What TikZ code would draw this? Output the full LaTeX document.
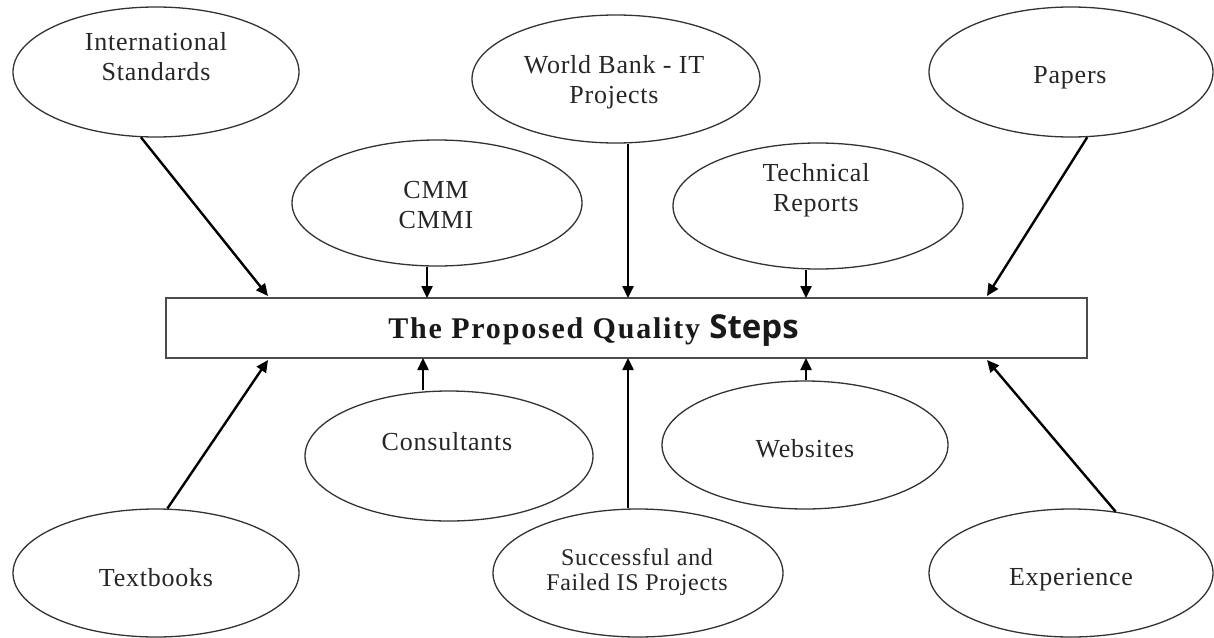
\documentclass[tikz,border=0pt]{standalone}
\usepackage{fontspec}
\setmainfont{Liberation Serif}
\newfontfamily\stepsfont{Open Sans}
\usetikzlibrary{shapes.geometric,arrows.meta}
\begin{document}
\begin{tikzpicture}[x=0.5pt,y=-0.5pt,
  src/.style={draw=black!80, line width=0.65pt, ellipse, inner sep=0pt},
  lbl/.style={font=\fontsize{13}{15}\selectfont\addfontfeatures{LetterSpace=3}, text=black!85, align=center, inner sep=0pt, anchor=base},
  arr/.style={line width=1.2pt, -{Triangle[length=6pt,width=5.5pt]}},
  ]
\useasboundingbox (0,0) rectangle (1214,637);
\fill[white] (0,0) rectangle (1214,637);

% central box
\node[draw=black!70, line width=1pt, minimum width=460.5pt, minimum height=30pt, inner sep=0pt] (box) at (626.5,328) {};
\node[anchor=base west, inner sep=0pt, text=black!90] (title) at (388,338)
  {\fontsize{15}{18}\selectfont\bfseries\addfontfeatures{LetterSpace=6}The Proposed Quality\ {\stepsfont\fontsize{16.5}{18}\selectfont\bfseries Steps}};

% sources above (two-line labels are placed by their last baseline)
\node[src, minimum width=143pt, minimum height=65pt] (is) at (156,72) {};
\node[lbl] (isT) at (156,80) {International\\Standards};
\node[src, minimum width=145pt, minimum height=63pt] (cmm) at (437,203) {};
\node[lbl] (cmmT) at (436,228) {CMM\\CMMI};
\node[src, minimum width=144pt, minimum height=64pt] (wb) at (616,79) {};
\node[lbl] (wbT) at (614,103) {World Bank - IT\\Projects};
\node[src, minimum width=145pt, minimum height=63pt] (tr) at (818,206) {};
\node[lbl] (trT) at (816,211) {Technical\\Reports};
\node[src, minimum width=142pt, minimum height=65pt] (pa) at (1071,72) {};
\node[lbl] (paT) at (1070,83) {Papers};

% sources below
\node[src, minimum width=143pt, minimum height=64pt] (tb) at (156,573) {};
\node[lbl] (tbT) at (156,586) {Textbooks};
\node[src, minimum width=144pt, minimum height=65pt] (co) at (449,456) {};
\node[lbl] (coT) at (447,450) {Consultants};
\node[src, minimum width=145pt, minimum height=64pt] (sf) at (638,573) {};
\node[lbl, font=\fontsize{12}{12.5}\selectfont\addfontfeatures{LetterSpace=3}] (sfT) at (637,590) {Successful and\\Failed IS Projects};
\node[src, minimum width=143pt, minimum height=64pt] (ws) at (805,445) {};
\node[lbl] (wsT) at (805,457) {Websites};
\node[src, minimum width=142pt, minimum height=64pt] (ex) at (1071,573) {};
\node[lbl] (exT) at (1071,585) {Experience};

% arrow end points on the box
\coordinate (isE) at (268,296);
\coordinate (cmmE) at (427,298);
\coordinate (wbE) at (628,298);
\coordinate (trE) at (806,298);
\coordinate (paE) at (987,296);
\coordinate (tbE) at (268,360);
\coordinate (coE) at (423,358);
\coordinate (sfE) at (628,358);
\coordinate (wsE) at (806,358);
\coordinate (exE) at (987,360);

\draw[arr] (is.-103.4) -- (isE);
\draw[arr] (cmm.south -| cmmE) -- (cmmE);
\draw[arr] (wb.south -| wbE) -- (wbE);
\draw[arr] (tr.south -| trE) -- (trE);
\draw[arr] (pa.-76) -- (paE);
\draw[arr] (tb.80) -- (tbE);
\draw[arr] (co.north -| coE) -- (coE);
\draw[arr] (sf.north -| sfE) -- (sfE);
\draw[arr] (ws.north -| wsE) -- (wsE);
\draw[arr] (ex.54) -- (exE);
\end{tikzpicture}
\end{document}
